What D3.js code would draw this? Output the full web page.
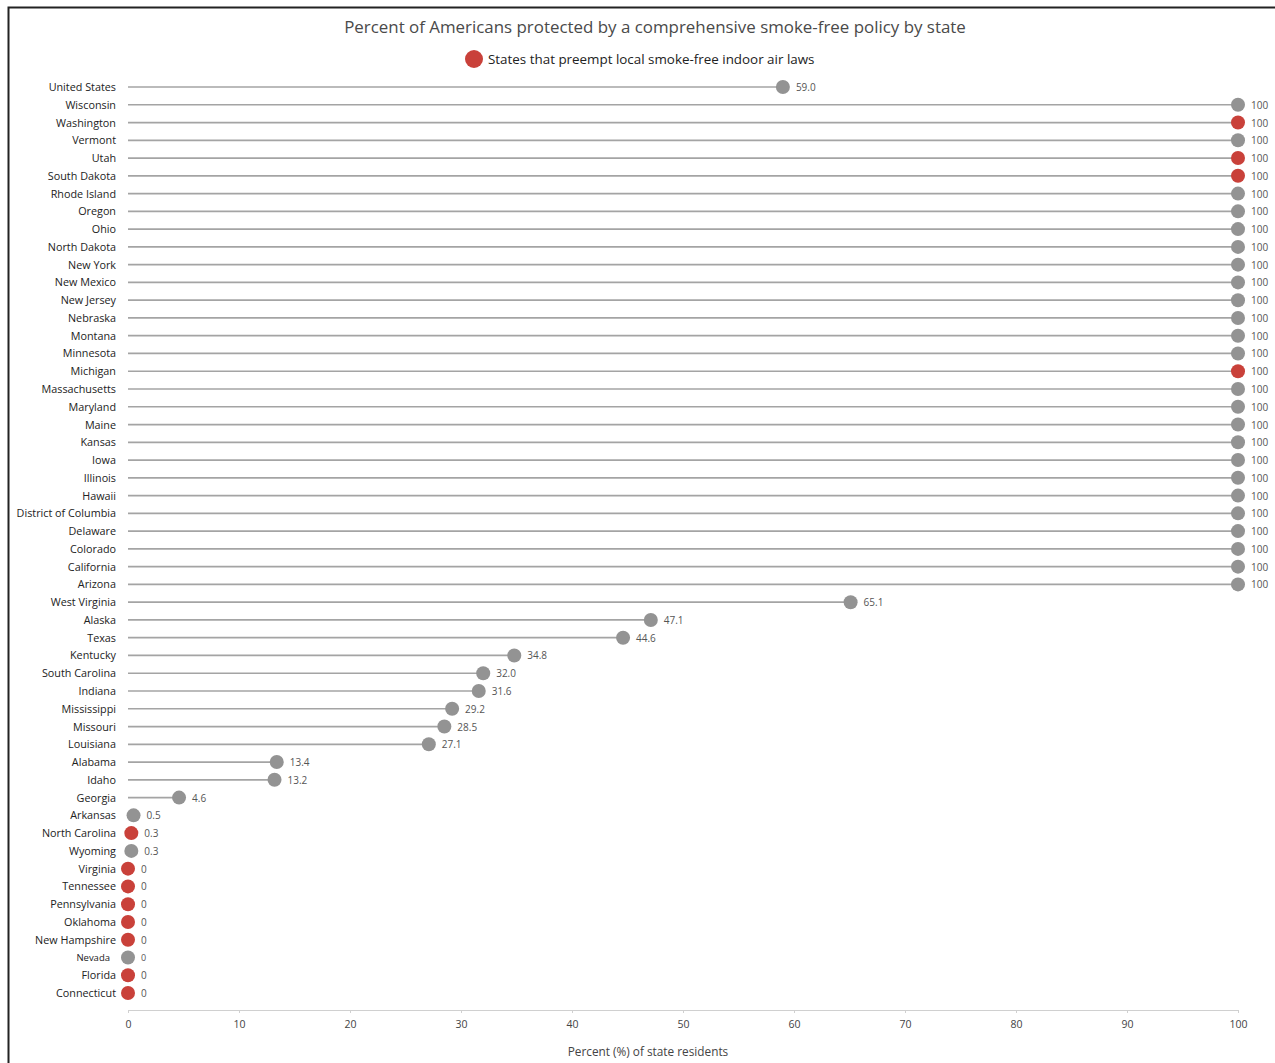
<!DOCTYPE html>
<html><head><meta charset="utf-8">
<script src="https://cdn.jsdelivr.net/npm/d3@7"></script>
<style>body{margin:0;background:#fff;} svg{display:block;}</style>
</head><body>
<svg id="c" width="1275" height="1063"></svg>
<script>
const states = ["United States","Wisconsin","Washington","Vermont","Utah","South Dakota","Rhode Island","Oregon","Ohio","North Dakota","New York","New Mexico","New Jersey","Nebraska","Montana","Minnesota","Michigan","Massachusetts","Maryland","Maine","Kansas","Iowa","Illinois","Hawaii","District of Columbia","Delaware","Colorado","California","Arizona","West Virginia","Alaska","Texas","Kentucky","South Carolina","Indiana","Mississippi","Missouri","Louisiana","Alabama","Idaho","Georgia","Arkansas","North Carolina","Wyoming","Virginia","Tennessee","Pennsylvania","Oklahoma","New Hampshire","Nevada","Florida","Connecticut"];
const values = [59.0,100,100,100,100,100,100,100,100,100,100,100,100,100,100,100,100,100,100,100,100,100,100,100,100,100,100,100,100,65.1,47.1,44.6,34.8,32.0,31.6,29.2,28.5,27.1,13.4,13.2,4.6,0.5,0.3,0.3,0,0,0,0,0,0,0,0];
const preempt = ["Washington","Utah","South Dakota","Michigan","North Carolina","Virginia","Tennessee","Pennsylvania","Oklahoma","New Hampshire","Florida","Connecticut"];
const xTicks = [0,10,20,30,40,50,60,70,80,90,100];
const title = "Percent of Americans protected by a comprehensive smoke-free policy by state";
const legendLabel = "States that preempt local smoke-free indoor air laws";
const xTitle = "Percent (%) of state residents";

const data = states.map((s,i)=>({state:s, value:values[i], pre:preempt.includes(s)}));
const svg = d3.select("#c");
const font = "'Open Sans', 'Liberation Sans', sans-serif";

// frame border
svg.append("path").attr("d","M8.5,1063 L8.5,7.5 L1275,7.5").attr("fill","none").attr("stroke","#222").attr("stroke-width",2);

const x = d3.scaleLinear().domain([0,100]).range([128,1238]);
const y = d3.scalePoint().domain(states).range([87,993]);

svg.append("text").attr("x",655).attr("y",33).attr("text-anchor","middle")
  .attr("font-family",font).attr("font-size",16.9).attr("fill","#4a4a4a").text(title);

svg.append("circle").attr("cx",474).attr("cy",59).attr("r",9).attr("fill","#c9413a");
svg.append("text").attr("x",488).attr("y",64).attr("font-family",font).attr("font-size",13.4).attr("fill","#222").text(legendLabel);

const RED="#c9413a", GRAY="#939393";

const g = svg.append("g");
g.selectAll("line.stem").data(data).join("line").attr("class","stem")
  .attr("x1",x(0)).attr("x2",d=>x(d.value)).attr("y1",d=>y(d.state)).attr("y2",d=>y(d.state))
  .attr("stroke","#a4a4a4").attr("stroke-width",1.7);
g.selectAll("circle.dot").data(data).join("circle").attr("class","dot")
  .attr("cx",d=>x(d.value)).attr("cy",d=>y(d.state)).attr("r",7)
  .attr("fill",d=>d.pre?RED:GRAY);
const fmt = v => (v===100||v===0)? String(v) : v.toFixed(1);
g.selectAll("text.val").data(data).join("text").attr("class","val")
  .attr("x",d=>x(d.value)+13).attr("y",d=>y(d.state)+4)
  .attr("font-family",font).attr("font-size",d=>d.state==="Nevada"?9:10).attr("fill","#555")
  .text(d=>fmt(d.value));
g.selectAll("text.lab").data(data).join("text").attr("class","lab")
  .attr("x",d=>d.state==="Nevada"?110:116).attr("y",d=>y(d.state)+4).attr("text-anchor","end")
  .attr("font-family",font).attr("font-size",d=>d.state==="Nevada"?9.5:10.8).attr("fill","#222")
  .text(d=>d.state);

// x axis
const ax = svg.append("g").attr("transform","translate(0,1010)")
  .call(d3.axisBottom(x).tickValues(xTicks).tickSize(3).tickFormat(d3.format("d")));
ax.select(".domain").attr("stroke","#d0d0d0");
ax.selectAll(".tick line").attr("stroke","#d0d0d0");
ax.selectAll(".tick text").attr("font-family",font).attr("font-size",10.5).attr("fill","#444").attr("y",11);

svg.append("text").attr("x",648).attr("y",1056).attr("text-anchor","middle")
  .attr("font-family",font).attr("font-size",11.8).attr("fill","#444").text(xTitle);
</script>
</body></html>
